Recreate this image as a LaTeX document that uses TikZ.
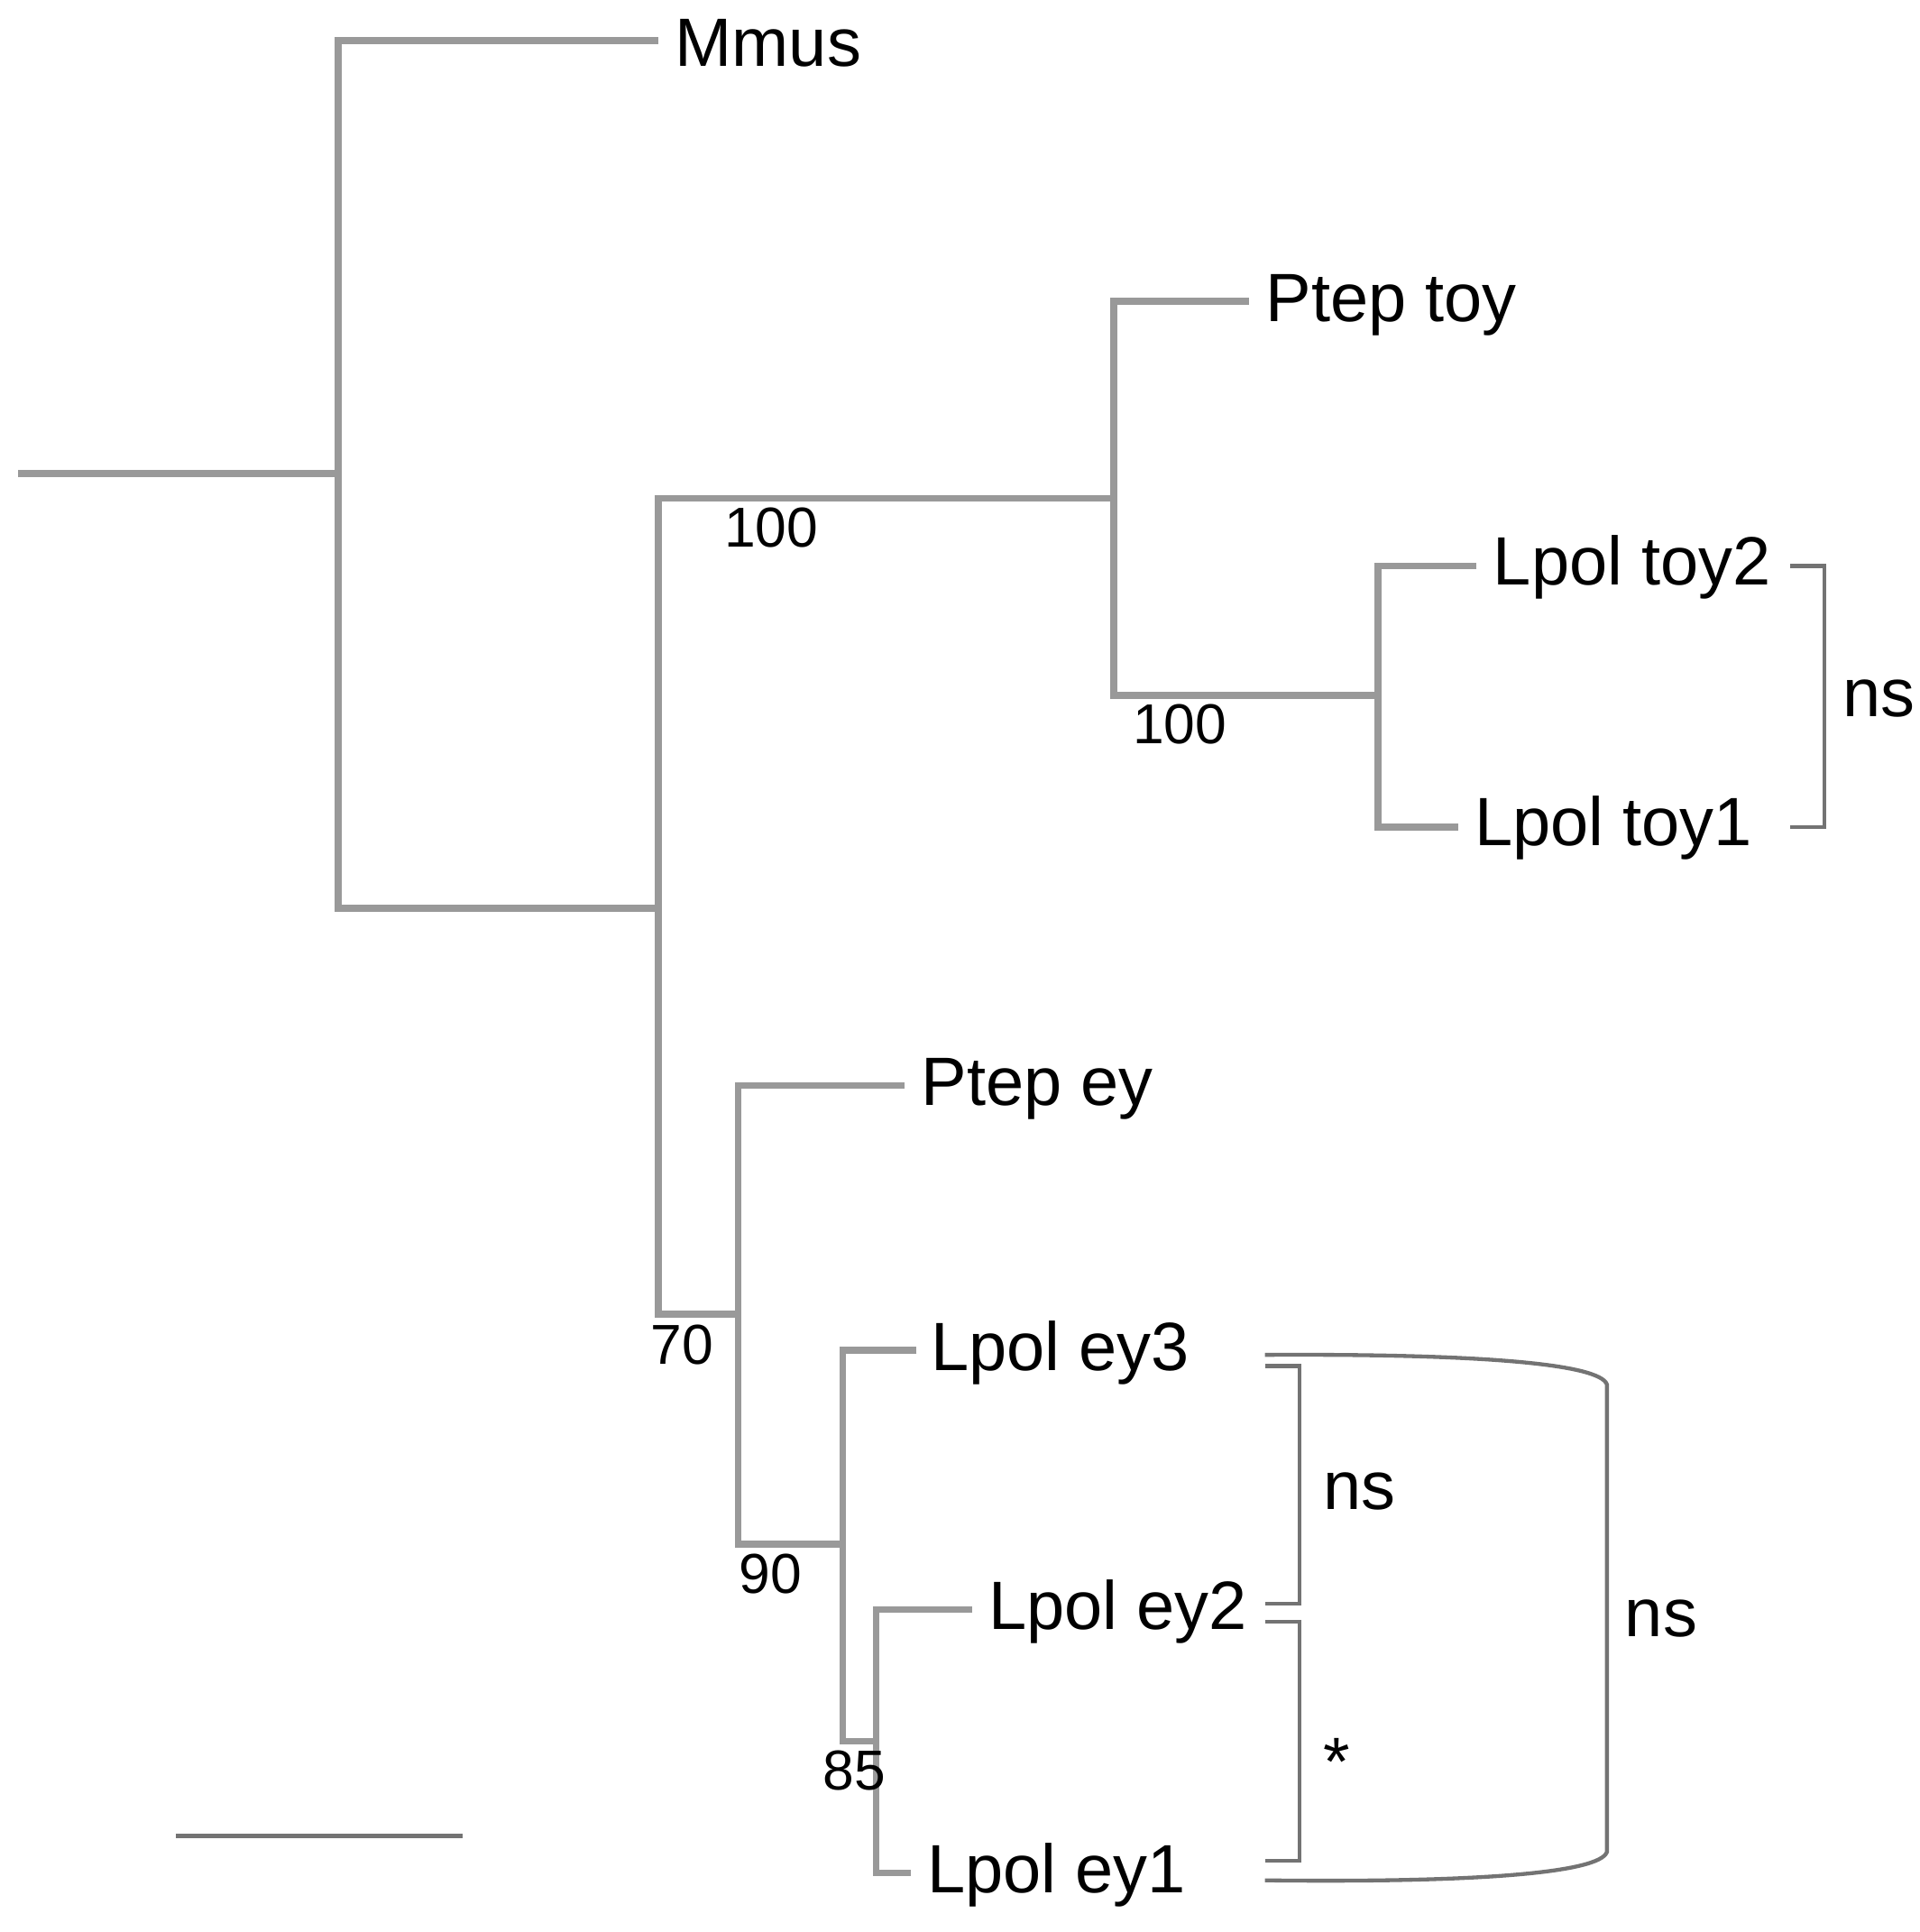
\documentclass[tikz,border=0pt]{standalone}
\usepackage{fontspec}
\setmainfont{Liberation Sans}
\begin{document}
\begin{tikzpicture}[x=0.01cm,y=-0.01cm,
  br/.style={draw=black!40,line width=1.6pt},
  bk/.style={draw=black!55,line width=0.9pt},
  lab/.style={anchor=west,inner sep=0,font=\fontsize{15.8}{18}\selectfont},
  bs/.style={inner sep=0,font=\fontsize{13}{15}\selectfont}]
\useasboundingbox (0,0) rectangle (1560,1570);
% labels
\node[lab] (mmus) at (548,35) {Mmus};
\node[lab] (ptoy) at (1028,248) {Ptep toy};
\node[lab] (lt2) at (1213,461) {Lpol toy2};
\node[lab] (lt1) at (1198,673) {Lpol toy1};
\node[lab] (pey) at (748,885) {Ptep ey};
\node[lab] (le3) at (756,1099) {Lpol ey3};
\node[lab] (le2) at (803,1310) {Lpol ey2};
\node[lab] (le1) at (753,1524) {Lpol ey1};
% coordinates
\coordinate (r0) at (15,385);
\coordinate (n1) at (275,385);
\coordinate (n2) at (535,738);
\coordinate (n3) at (905,405);
\coordinate (n4) at (1120,565);
\coordinate (n5) at (600,1068);
\coordinate (n6) at (685,1255);
\coordinate (n7) at (712,1415);
% tree
\draw[br] (r0) -- (n1);
\draw[br] (535,33) -| (n1) |- (n2);
\draw[br] (n3) -| (n2) |- (n5);
\draw[br] (1015,245) -| (n3) |- (n4);
\draw[br] (1200,460) -| (n4) |- (1185,672);
\draw[br] (735,882) -| (n5) |- (n6);
\draw[br] (745,1097) -| (n6) |- (n7);
\draw[br] (790,1308) -| (n7) |- (740,1522);
% bootstrap
\node[bs,anchor=north west] (b1) at (588,412) {100};
\node[bs,anchor=north west] (b2) at (920,572) {100};
\node[bs,anchor=north west] (b3) at (528,1076) {70};
\node[bs,anchor=north west] (b4) at (600,1262) {90};
\node[bs,anchor=north west] (b5) at (668,1422) {85};
% scale bar
\draw[bk,line width=1.1pt] (143,1492) -- (376,1492);
% brackets
\draw[bk] (1455,460) -- (1483,460) -- (1483,672) -- (1455,672);
\node[lab] (ns1) at (1497,568) {ns};
\draw[bk] (1028,1110) -- (1056,1110) -- (1056,1303) -- (1028,1303);
\node[lab] (ns2) at (1075,1212) {ns};
\draw[bk] (1028,1318) -- (1056,1318) -- (1056,1512) -- (1028,1512);
\node[lab] (st) at (1075,1432) {*};
\draw[bk] (1028,1101) .. controls (1200,1100) and (1300,1108) .. (1306,1125) -- (1306,1505) .. controls (1300,1522) and (1200,1530) .. (1028,1528);
\node[lab] (ns3) at (1320,1315) {ns};
\end{tikzpicture}
\end{document}
